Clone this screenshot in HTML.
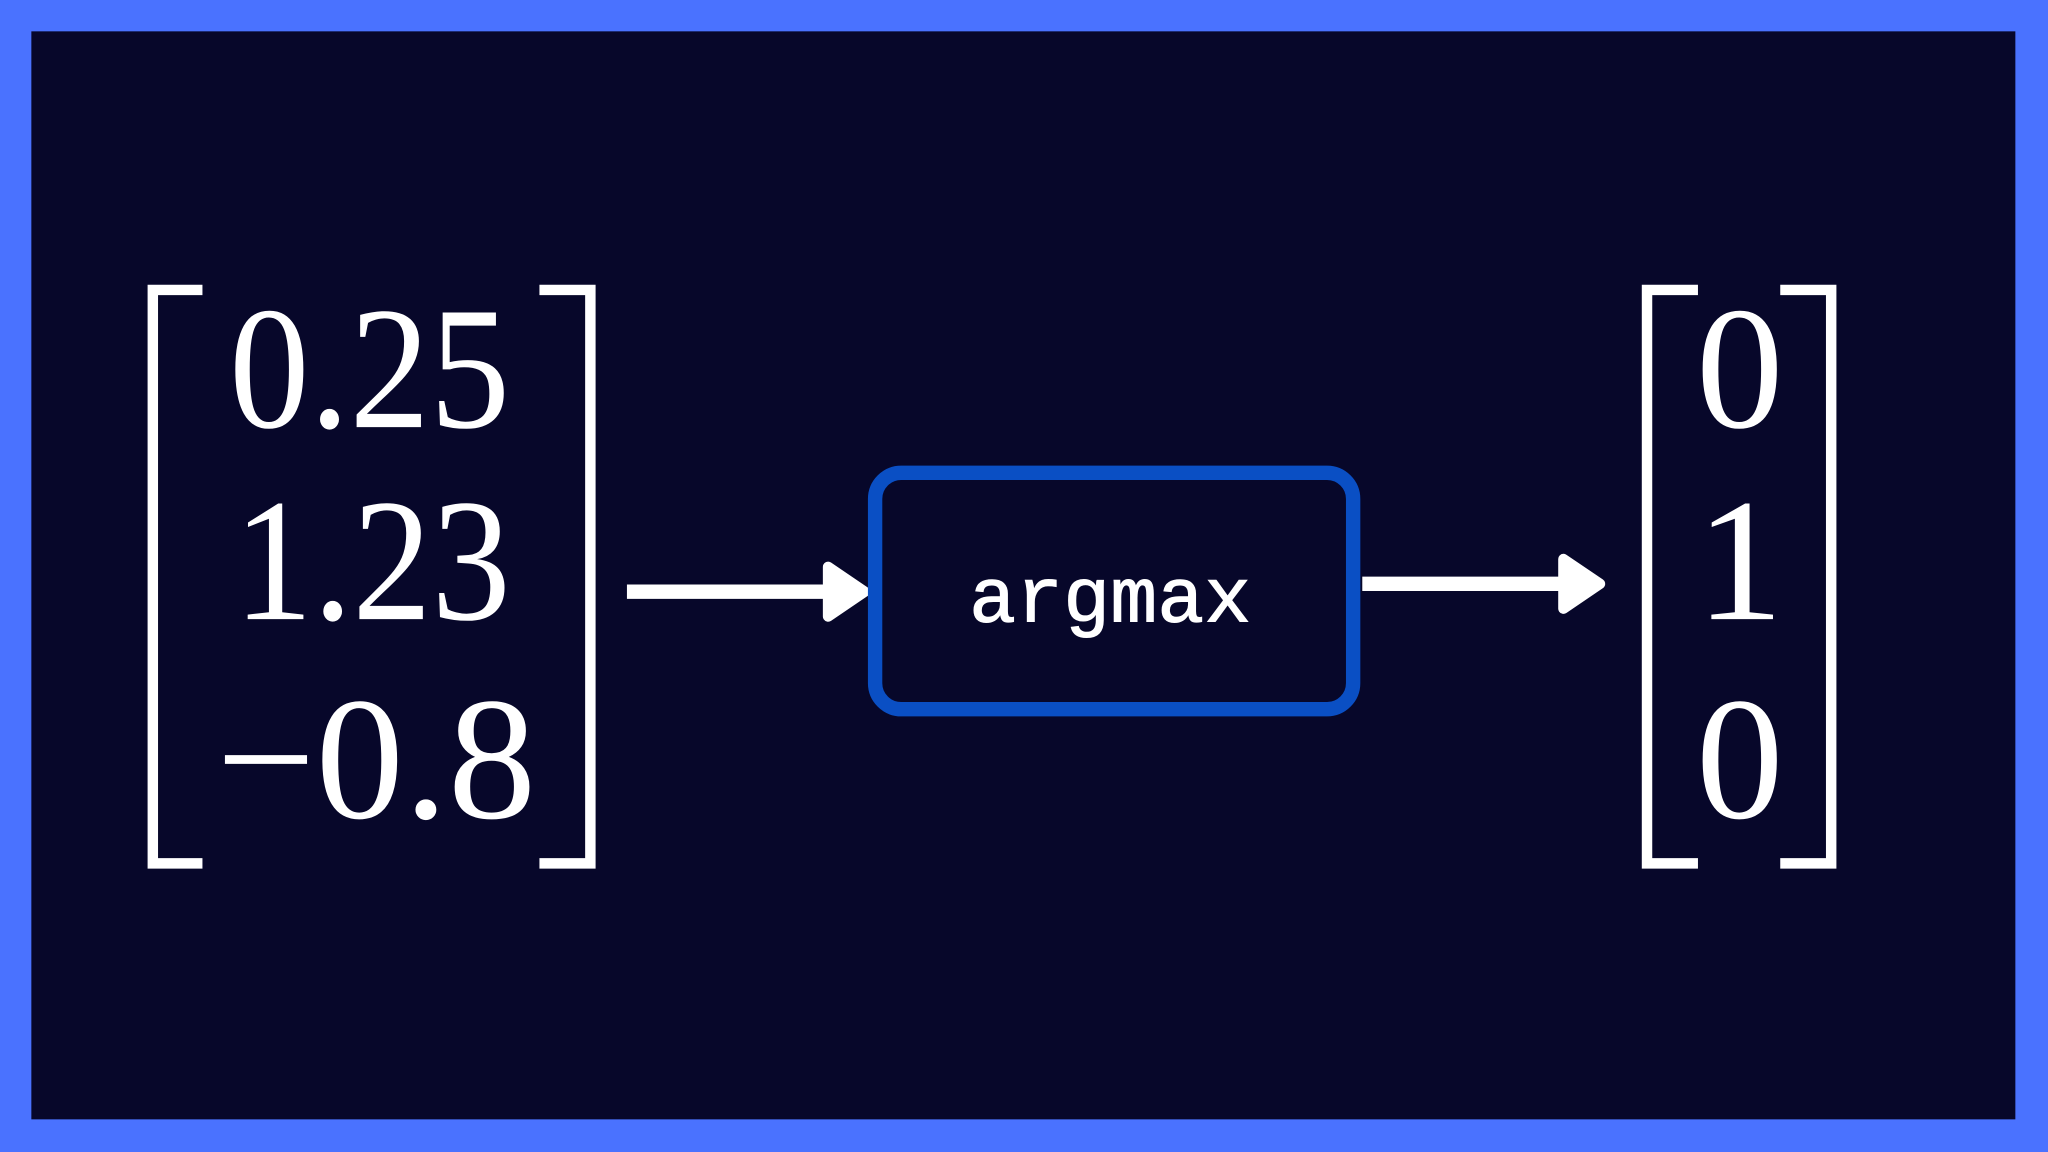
<!DOCTYPE html>
<html><head><meta charset="utf-8"><style>
html,body{margin:0;padding:0;background:#4a72ff;}
svg{display:block;}
</style></head><body>
<svg width="2048" height="1152" viewBox="0 0 1568 882" xmlns="http://www.w3.org/2000/svg">
<rect x="0" y="0" width="1568" height="882" fill="#4a72ff"/>
<rect x="24" y="24" width="1519" height="833" fill="#07072a"/>
<g fill="none" stroke="#fff" stroke-width="8">
<path d="M155 222 H117 V661 H155"/>
<path d="M413 222 H452 V661 H413"/>
<path d="M1300 222 H1261 V661 H1300"/>
<path d="M1363 222 H1402 V661 H1363"/>
</g>
<g fill="#fff" font-family="Liberation Serif, serif" font-size="134" text-anchor="middle">
<text x="283" y="327" textLength="215" lengthAdjust="spacingAndGlyphs">0.25</text>
<text x="285" y="474" textLength="212" lengthAdjust="spacingAndGlyphs">1.23</text>
<text x="288" y="626" textLength="245" lengthAdjust="spacingAndGlyphs">−0.8</text>
<text x="1332" y="327">0</text>
<text x="1332" y="474">1</text>
<text x="1332" y="626">0</text>
</g>
<g stroke="#fff" stroke-width="11" stroke-linecap="butt">
<line x1="480" y1="453" x2="640" y2="453"/>
<line x1="1043" y1="447" x2="1200" y2="447"/>
</g>
<g fill="#fff" stroke="#fff" stroke-width="8" stroke-linejoin="round">
<polygon points="634,434 662,453 634,472"/>
<polygon points="1197,428 1225,447 1197,466"/>
</g>
<rect x="670" y="362" width="366" height="181" rx="20" fill="#07072a" stroke="#0a4fc4" stroke-width="11"/>
<text x="850" y="476" fill="#fff" font-family="Liberation Mono, monospace" font-size="60" text-anchor="middle" stroke="#fff" stroke-width="0.8" textLength="216" lengthAdjust="spacingAndGlyphs">argmax</text>
</svg>
</body></html>
